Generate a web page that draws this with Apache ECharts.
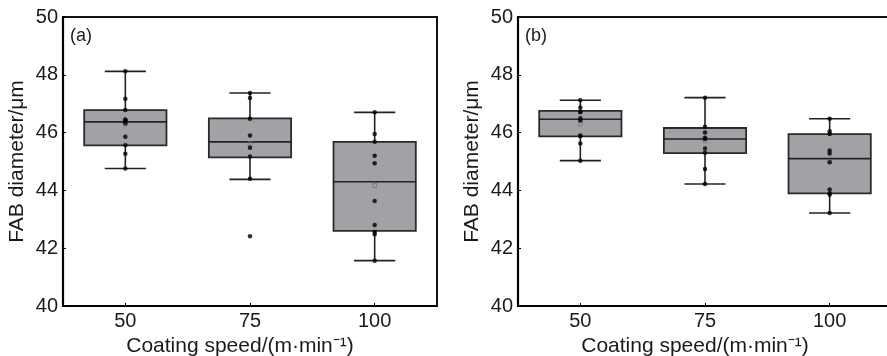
<!DOCTYPE html>
<html>
<head>
<meta charset="utf-8">
<script src="https://cdn.jsdelivr.net/npm/echarts@6/dist/echarts.min.js"></script>
<style>
  html, body { margin: 0; padding: 0; background: #fff; }
  #chart { width: 887px; height: 356px; }
</style>
</head>
<body>
<div id="chart"></div>
<script>
// 涂覆速度
const categories = ['50', '75', '100']
const yTicks = [40, 42, 44, 46, 48, 50]

// 箱线统计 [下须, Q1, 中位数, Q3, 上须]
const boxA = [
  [44.76, 45.56, 46.37, 46.78, 48.12],
  [44.38, 45.14, 45.68, 46.49, 47.37],
  [41.57, 42.60, 44.30, 45.68, 46.70],
]
const boxB = [
  [45.03, 45.87, 46.46, 46.75, 47.12],
  [44.22, 45.29, 45.78, 46.16, 47.21],
  [43.22, 43.90, 45.10, 45.95, 46.48],
]
const meanA = [46.30, 45.62, 44.17]
const meanB = [46.30, 45.72, 45.00]

// 原始数据点
const pointsA50 = [48.12, 47.17, 46.78, 46.45, 46.43, 46.40, 46.32, 45.86, 45.56, 45.27, 44.76]
const pointsA75 = [47.37, 47.20, 46.48, 45.90, 45.48, 45.17, 44.40, 42.41]
const pointsA100 = [46.70, 45.95, 45.68, 45.20, 44.94, 43.63, 42.80, 42.56, 42.48, 41.57]
const pointsB50 = [47.12, 46.87, 46.73, 46.70, 46.50, 46.42, 45.90, 45.87, 45.62, 45.03]
const pointsB75 = [47.21, 46.20, 46.00, 45.82, 45.78, 45.45, 45.30, 44.74, 44.22]
const pointsB100 = [46.48, 46.05, 45.95, 45.38, 45.28, 44.97, 44.03, 43.90, 43.85, 43.22]

const font = 'Liberation Sans, Arial, sans-serif'
const textColor = '#1a1a1a'

const toPoints = (lists) => {
  const out = []
  lists.forEach((vals, i) => vals.forEach(v => out.push([i, v])))
  return out
}

// 自定义箱体：须线帽宽为箱宽一半
function renderBox(params, api) {
  const idx = api.value(0)
  const band = api.size([1, 0])[0]
  const half = band * 0.33
  const cap = half * 0.5
  const x = api.coord([idx, 0])[0]
  const yLo = api.coord([idx, api.value(1)])[1]
  const yQ1 = api.coord([idx, api.value(2)])[1]
  const yMed = api.coord([idx, api.value(3)])[1]
  const yQ3 = api.coord([idx, api.value(4)])[1]
  const yHi = api.coord([idx, api.value(5)])[1]
  const line = {stroke: '#222', lineWidth: 1.6}
  return {
    type: 'group',
    children: [
      {type: 'line', shape: {x1: x, y1: yQ3, x2: x, y2: yHi}, style: line},
      {type: 'line', shape: {x1: x, y1: yQ1, x2: x, y2: yLo}, style: line},
      {type: 'line', shape: {x1: x - cap, y1: yHi, x2: x + cap, y2: yHi}, style: line},
      {type: 'line', shape: {x1: x - cap, y1: yLo, x2: x + cap, y2: yLo}, style: line},
      {type: 'rect', shape: {x: x - half, y: yQ3, width: half * 2, height: yQ1 - yQ3},
        style: {fill: '#a1a2a6', stroke: '#2a2a2a', lineWidth: 1.8}},
      {type: 'line', shape: {x1: x - half, y1: yMed, x2: x + half, y2: yMed}, style: line},
    ],
  }
}

// (b) 图右侧超出画布，关闭 v6 的自动收缩
const makeGrid = (left) => ({
  left, top: 17, width: 374, height: 289,
  outerBoundsMode: 'none', containLabel: false,
  show: true, borderColor: '#111', borderWidth: 2, backgroundColor: 'transparent',
})

const makeX = (gridIndex) => ({
  type: 'category', gridIndex, data: categories,
  name: 'Coating speed/(m·min⁻¹)', nameLocation: 'middle', nameGap: 25,
  nameTextStyle: {fontSize: 21, color: textColor, fontFamily: font, padding: [0, 20, 0, 0]},
  axisLine: {lineStyle: {color: '#000', width: 2.2}},
  axisTick: {show: true, inside: true, length: 3, alignWithLabel: true, lineStyle: {color: '#000'}},
  axisLabel: {fontSize: 20, color: textColor, fontFamily: font, margin: 5},
  splitLine: {show: false},
})

const makeY = (gridIndex) => ({
  type: 'value', gridIndex, min: yTicks[0], max: yTicks[yTicks.length - 1], interval: 2,
  name: 'FAB diameter/μm', nameLocation: 'middle', nameGap: 35,
  nameTextStyle: {fontSize: 21, color: textColor, fontFamily: font},
  axisLine: {show: true, lineStyle: {color: '#000', width: 2.2}},
  axisTick: {show: true, inside: true, length: 3, lineStyle: {color: '#000'}},
  axisLabel: {fontSize: 20, color: textColor, fontFamily: font, margin: 5},
  splitLine: {show: false},
})

const boxSeries = (idx, stats) => ({
  type: 'custom', xAxisIndex: idx, yAxisIndex: idx,
  renderItem: renderBox,
  encode: {x: 0, y: [1, 2, 3, 4, 5]},
  data: stats.map((s, i) => [i, ...s]),
  z: 2,
})

const pointSeries = (idx, data) => ({
  type: 'scatter', xAxisIndex: idx, yAxisIndex: idx,
  symbol: 'circle', symbolSize: 4.5,
  itemStyle: {color: '#000'},
  data, z: 4,
})

const meanSeries = (idx, means) => ({
  type: 'scatter', xAxisIndex: idx, yAxisIndex: idx,
  symbol: 'rect', symbolSize: 4,
  itemStyle: {color: 'transparent', borderColor: '#6a6a6a', borderWidth: 0.8},
  data: means.map((m, i) => [i, m]), z: 3,
})

const myChart = echarts.init(document.getElementById('chart'), null, {renderer: 'canvas'})

myChart.setOption({
  animation: false,
  backgroundColor: '#fff',
  title: [
    {text: '(a)', left: 65, top: 22, textStyle: {fontSize: 18, fontWeight: 'normal', color: textColor, fontFamily: font}},
    {text: '(b)', left: 520, top: 22, textStyle: {fontSize: 18, fontWeight: 'normal', color: textColor, fontFamily: font}},
  ],
  grid: [makeGrid(63), makeGrid(518)],
  xAxis: [makeX(0), makeX(1)],
  yAxis: [makeY(0), makeY(1)],
  series: [
    boxSeries(0, boxA),
    meanSeries(0, meanA),
    pointSeries(0, toPoints([pointsA50, pointsA75, pointsA100])),
    boxSeries(1, boxB),
    meanSeries(1, meanB),
    pointSeries(1, toPoints([pointsB50, pointsB75, pointsB100])),
  ],
})
</script>
</body>
</html>
